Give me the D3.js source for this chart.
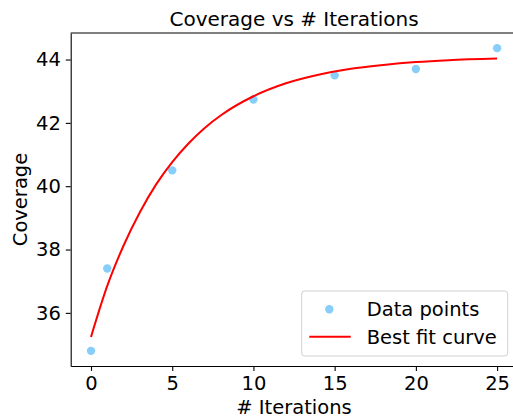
<!DOCTYPE html>
<html>
<head>
<meta charset="utf-8">
<script src="https://cdn.jsdelivr.net/npm/d3@7"></script>
<style>
  body { margin: 0; background: #fff; }
  svg { display: block; }
  text { font-family: "DejaVu Sans", sans-serif; fill: #000; }
</style>
</head>
<body>
<svg id="chart" width="513" height="417"></svg>
<script>
// scatter data
const iterations = [0, 1, 5, 10, 15, 20, 25];
const coverage = [34.8, 37.4, 40.5, 42.74, 43.5, 43.7, 44.36];

// best fit curve
const fitX = [0, 1, 2, 3, 4, 5, 6, 7, 8, 10, 12, 14, 16, 18, 20, 22, 25];
const fitY = [35.24, 36.85, 38.12, 39.17, 40.05, 40.76, 41.35, 41.84, 42.24, 42.84, 43.25, 43.52, 43.71, 43.83, 43.92, 43.98, 44.03];

const xTicks = [0, 5, 10, 15, 20, 25];
const yTicks = [36, 38, 40, 42, 44];

const plotL = 70.7, plotR = 517.4, plotT = 33, plotB = 366;
const fs = 19.5;

const svg = d3.select('#chart');

// matplotlib style 5% padding
function padded(vals) {
    const [lo, hi] = d3.extent(vals);
    const p = (hi - lo) * 0.05;
    return [lo - p, hi + p];
}

const x = d3.scaleLinear().domain(padded(iterations)).range([plotL, plotR]);
const y = d3.scaleLinear().domain(padded(coverage)).range([plotB, plotT]);

// axes
const xAxis = svg.append('g').attr('transform', `translate(0,${plotB})`)
    .call(d3.axisBottom(x).tickValues(xTicks).tickSize(4.9).tickPadding(4.9).tickSizeOuter(0));
const yAxis = svg.append('g').attr('transform', `translate(${plotL},0)`)
    .call(d3.axisLeft(y).tickValues(yTicks).tickSize(4.9).tickPadding(4.9).tickSizeOuter(0));
[xAxis, yAxis].forEach(g => {
    g.selectAll('text').style('font-size', fs + 'px').attr('fill', '#000');
    g.selectAll('line').attr('stroke', '#000').attr('stroke-width', 1.1);
    g.select('.domain').attr('stroke', '#000').attr('stroke-width', 1.1);
});

// top and right spines
svg.append('line').attr('x1', plotL).attr('x2', plotR).attr('y1', plotT).attr('y2', plotT)
    .attr('stroke', '#000').attr('stroke-width', 1.1);
svg.append('line').attr('x1', plotR).attr('x2', plotR).attr('y1', plotT).attr('y2', plotB)
    .attr('stroke', '#000').attr('stroke-width', 1.1);

// points
svg.append('g').selectAll('circle').data(iterations).enter().append('circle')
    .attr('cx', d => x(d))
    .attr('cy', (d, i) => y(coverage[i]))
    .attr('r', 4.2)
    .attr('fill', '#87cefa');

// fit curve
const line = d3.line().x(d => x(d)).y((d, i) => y(fitY[i])).curve(d3.curveMonotoneX);
svg.append('path').datum(fitX).attr('d', line)
    .attr('fill', 'none').attr('stroke', 'red').attr('stroke-width', 2);

// title and labels
const midX = (plotL + plotR) / 2;
svg.append('text').attr('x', midX).attr('y', 26).attr('text-anchor', 'middle')
    .style('font-size', '20px').text('Coverage vs # Iterations');
svg.append('text').attr('x', midX).attr('y', 414).attr('text-anchor', 'middle')
    .style('font-size', fs + 'px').text('# Iterations');
svg.append('text').attr('transform', `translate(27,${(plotT + plotB) / 2}) rotate(-90)`)
    .attr('text-anchor', 'middle').style('font-size', fs + 'px').text('Coverage');

// legend
const lg = svg.append('g');
lg.append('rect').attr('x', 301.7).attr('y', 291).attr('width', 206).attr('height', 65)
    .attr('rx', 3).attr('fill', 'rgba(255,255,255,0.8)').attr('stroke', '#d0d0d0').attr('stroke-width', 1);
lg.append('circle').attr('cx', 329.3).attr('cy', 309.3).attr('r', 4.2).attr('fill', '#87cefa');
lg.append('line').attr('x1', 309.3).attr('x2', 350.7).attr('y1', 336.7).attr('y2', 336.7)
    .attr('stroke', 'red').attr('stroke-width', 2);
lg.append('text').attr('x', 366.7).attr('y', 316).style('font-size', fs + 'px').text('Data points');
lg.append('text').attr('x', 366.7).attr('y', 344).style('font-size', fs + 'px').text('Best fit curve');
</script>
</body>
</html>
